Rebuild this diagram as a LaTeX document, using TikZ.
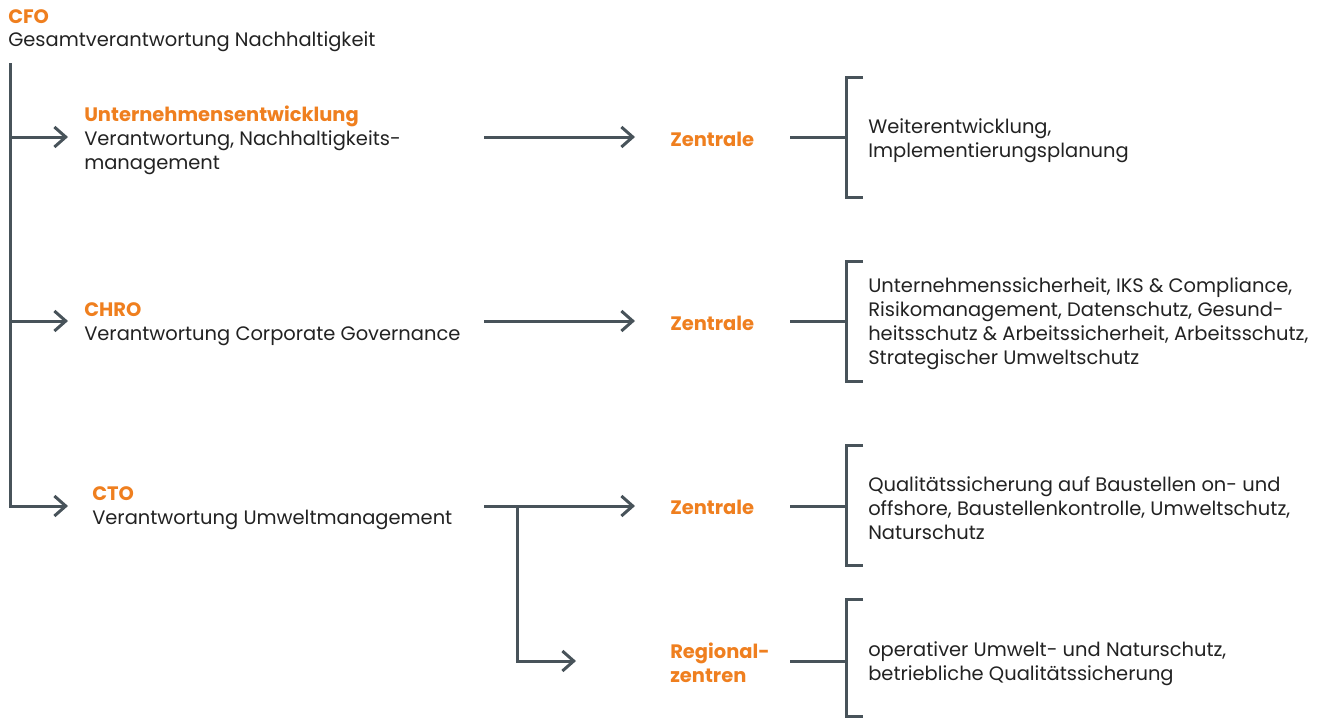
\documentclass[tikz,border=0pt]{standalone}
\usepackage{fontspec}
\setmainfont{Poppins}
\usetikzlibrary{arrows.meta}
\definecolor{brandorange}{HTML}{EF7F1F}
\definecolor{linegrey}{HTML}{48535A}
\definecolor{textdark}{HTML}{222222}
\newcommand{\hl}[1]{{\bfseries\color{brandorange}#1}}
\begin{document}
\begin{tikzpicture}[x=0.75pt,y=-0.75pt,
  txt/.style={anchor=west,align=left,inner sep=0pt,text=textdark,
    font=\fontsize{14.6pt}{18pt}\selectfont},
  ln/.style={draw=linegrey,line width=2.25pt,line join=miter},
  arr/.style={ln,-{Straight Barb[length=8.5pt,width=15pt,line width=2.25pt]}}]
\useasboundingbox (0,0) rectangle (1318,718);
% text nodes
\node[txt] (cfo) at (8,31) {\hl{CFO}\\[-1pt]Gesamtverantwortung Nachhaltigkeit};
\node[txt] (ue) at (84,140) {\hl{Unternehmensentwicklung}\\Verantwortung, Nachhaltigkeits-\\management};
\node[txt] (chro) at (84,324) {\hl{CHRO}\\Verantwortung Corporate Governance};
\node[txt] (cto) at (92,508) {\hl{CTO}\\Verantwortung Umweltmanagement};
\node[txt] (z1) at (670,139) {\hl{Zentrale}};
\node[txt] (z2) at (670,323) {\hl{Zentrale}};
\node[txt] (z3) at (670,507) {\hl{Zentrale}};
\node[txt] (rz) at (670,663) {\hl{Regional-}\\\hl{zentren}};
\node[txt] (d1) at (868,141) {Weiterentwicklung,\\Implementierungsplanung};
\node[txt] (d2) at (868,324) {Unternehmenssicherheit, IKS \& Compliance,\\Risikomanagement, Datenschutz, Gesund-\\heitsschutz \& Arbeitssicherheit, Arbeitsschutz,\\Strategischer Umweltschutz};
\node[txt] (d3) at (868,508) {Qualitätssicherung auf Baustellen on- und\\offshore, Baustellenkontrolle, Umweltschutz,\\Naturschutz};
\node[txt] (d4) at (868,664) {operativer Umwelt- und Naturschutz,\\betriebliche Qualitätssicherung};
% coordinates
\coordinate (top) at (10,63);
\coordinate (j1) at (10,137);
\coordinate (j2) at (10,321);
\coordinate (a1) at (68,137);
\coordinate (a2) at (68,321);
\coordinate (a3) at (68,506);
\coordinate (s1) at (484,137);
\coordinate (e1) at (635,137);
\coordinate (s2) at (484,321);
\coordinate (e2) at (635,321);
\coordinate (s3) at (484,506);
\coordinate (e3) at (635,506);
\coordinate (j4) at (517,506);
\coordinate (e4) at (576,661);
% main spine
\draw[arr] (top) |- (a3);
\draw[arr] (j1) -- (a1);
\draw[arr] (j2) -- (a2);
% middle arrows
\draw[arr] (s1) -- (e1);
\draw[arr] (s2) -- (e2);
\draw[arr] (s3) -- (e3);
\draw[arr] (j4) |- (e4);
% brackets
\foreach \y/\t/\b in {137/77/197, 321/261/381, 506/445/565, 661/599/716}{
  \draw[ln] (790,\y) -- (846,\y);
  \draw[ln] (863,\t) -- (846,\t) -- (846,\b) -- (863,\b);
}
\end{tikzpicture}
\end{document}
